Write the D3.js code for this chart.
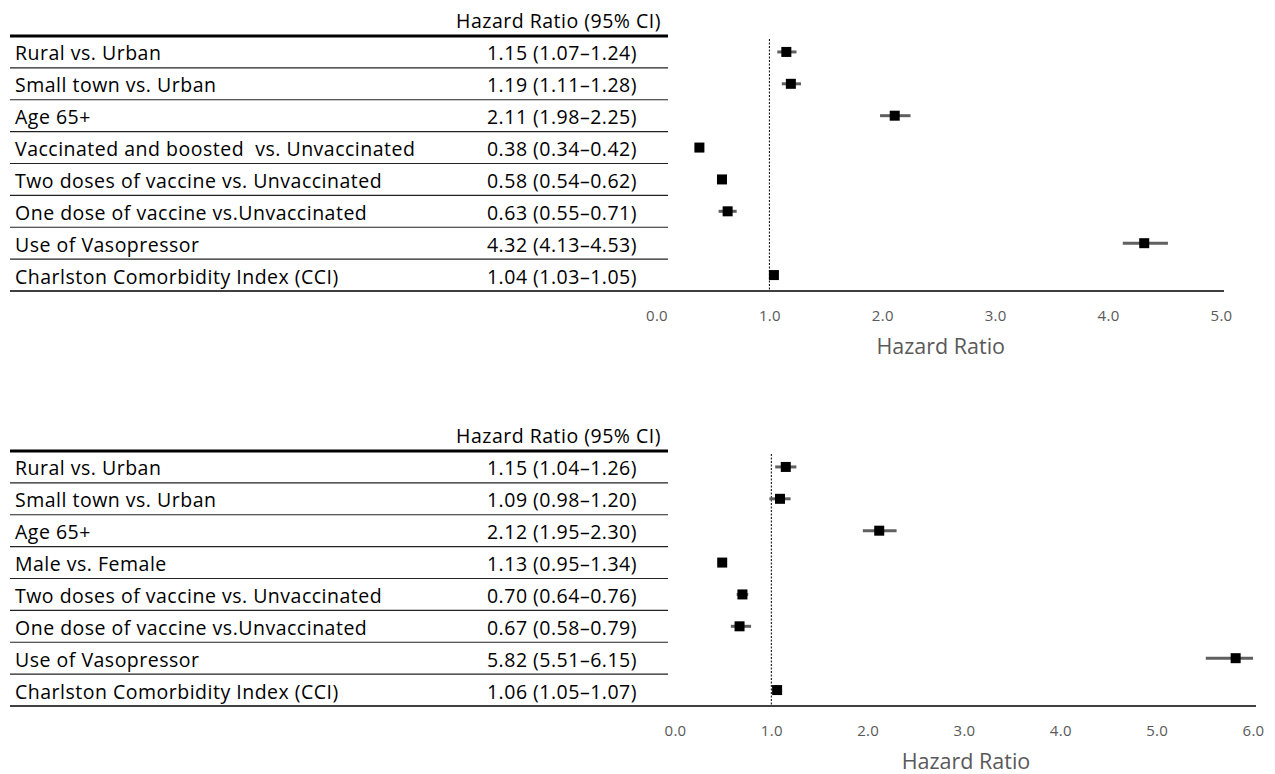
<!DOCTYPE html>
<html><head><meta charset="utf-8">
<script src="https://cdn.jsdelivr.net/npm/d3@7"></script>
<style>
html,body{margin:0;padding:0;background:#fff;}
text{font-family:"Open Sans",sans-serif;white-space:pre;}
</style></head>
<body><svg id="c" width="1275" height="774"></svg>
<script>
// ---- Panel 1 data ----
const labels1 = ["Rural vs. Urban","Small town vs. Urban","Age 65+","Vaccinated and boosted  vs. Unvaccinated","Two doses of vaccine vs. Unvaccinated","One dose of vaccine vs.Unvaccinated","Use of Vasopressor","Charlston Comorbidity Index (CCI)"];
const ciText1 = ["1.15 (1.07\u20131.24)","1.19 (1.11\u20131.28)","2.11 (1.98\u20132.25)","0.38 (0.34\u20130.42)","0.58 (0.54\u20130.62)","0.63 (0.55\u20130.71)","4.32 (4.13\u20134.53)","1.04 (1.03\u20131.05)"];
const hr1 = [1.15,1.19,2.11,0.38,0.58,0.63,4.32,1.04];
const lo1 = [1.07,1.11,1.98,0.34,0.54,0.55,4.13,1.03];
const hi1 = [1.24,1.28,2.25,0.42,0.62,0.71,4.53,1.05];
const ticks1 = [0,1,2,3,4,5];

// ---- Panel 2 data (plotted positions) ----
const labels2 = ["Rural vs. Urban","Small town vs. Urban","Age 65+","Male vs. Female","Two doses of vaccine vs. Unvaccinated","One dose of vaccine vs.Unvaccinated","Use of Vasopressor","Charlston Comorbidity Index (CCI)"];
const ciText2 = ["1.15 (1.04\u20131.26)","1.09 (0.98\u20131.20)","2.12 (1.95\u20132.30)","1.13 (0.95\u20131.34)","0.70 (0.64\u20130.76)","0.67 (0.58\u20130.79)","5.82 (5.51\u20136.15)","1.06 (1.05\u20131.07)"];
const hr2 = [1.15,1.09,2.12,0.49,0.70,0.67,5.82,1.06];
const lo2 = [1.04,0.98,1.95,0.45,0.64,0.58,5.51,1.05];
const hi2 = [1.26,1.20,2.30,0.54,0.76,0.79,6.15,1.07];
const ticks2 = [0,1,2,3,4,5,6];

const headerText = "Hazard Ratio (95% CI)";
const axisTitle = "Hazard Ratio";

const svg = d3.select("#c");

function panel(cfg){
  const g = svg.append("g");
  const n = cfg.labels.length;
  const y = d3.scaleBand().domain(d3.range(n)).range([cfg.top, cfg.bottom]).padding(0);
  const x = d3.scaleLinear().domain([0, d3.max(cfg.ticks)]).range([cfg.x0, cfg.x1]);

  // header
  g.append("text").attr("x", cfg.valRight + 24).attr("y", cfg.top - 8)
    .attr("text-anchor","end").attr("font-size",19.5).attr("letter-spacing",0.5)
    .attr("fill","#000").text(headerText);
  // thick top rule
  g.append("line").attr("x1",10).attr("x2",668).attr("y1",cfg.top).attr("y2",cfg.top)
    .attr("stroke","#000").attr("stroke-width",3);
  // row separators
  g.selectAll("line.sep").data(d3.range(1,n)).join("line").attr("class","sep")
    .attr("x1",10).attr("x2",668).attr("y1",d=>y(d)).attr("y2",d=>y(d))
    .attr("stroke","#222").attr("stroke-width",1.2);
  // labels
  g.selectAll("text.lab").data(cfg.labels).join("text").attr("class","lab")
    .attr("x",15).attr("y",(d,i)=>y(i)+y.bandwidth()/2+8.5)
    .attr("font-size",19.5).attr("letter-spacing",0.5).attr("fill","#000").text(d=>d);
  g.selectAll("text.val").data(cfg.ci).join("text").attr("class","val")
    .attr("x",cfg.valRight).attr("y",(d,i)=>y(i)+y.bandwidth()/2+8.5)
    .attr("text-anchor","end").attr("font-size",19.5).attr("letter-spacing",0.5)
    .attr("fill","#000").text(d=>d);

  // axis (bottom rule + ticks)
  const axis = d3.axisBottom(x).tickValues(cfg.ticks).tickSize(0).tickPadding(19)
    .tickFormat(d3.format(".1f"));
  const ag = g.append("g").attr("transform",`translate(0,${cfg.bottom})`).call(axis);
  ag.select(".domain").remove();
  ag.selectAll("text").attr("font-size",15).attr("letter-spacing",0.3).attr("fill","#595959")
    .style("font-family","'Open Sans',sans-serif");
  g.append("line").attr("x1",10).attr("x2",cfg.x1+3).attr("y1",cfg.bottom).attr("y2",cfg.bottom)
    .attr("stroke","#000").attr("stroke-width",1.5);
  g.append("text").attr("x",(cfg.x0+cfg.x1)/2+2).attr("y",cfg.bottom+63)
    .attr("text-anchor","middle").attr("font-size",21.5).attr("fill","#595959").text(axisTitle);

  // reference line at HR = 1
  g.append("line").attr("x1",x(1)).attr("x2",x(1)).attr("y1",cfg.top+3).attr("y2",cfg.bottom)
    .attr("stroke","#000").attr("stroke-width",1).attr("stroke-dasharray","2,1.5");

  // CIs
  const dom = x.domain();
  g.selectAll("line.ci").data(cfg.hr).join("line").attr("class","ci")
    .attr("x1",(d,i)=>x(Math.max(dom[0],cfg.lo[i]))).attr("x2",(d,i)=>x(Math.min(dom[1],cfg.hi[i])))
    .attr("y1",(d,i)=>y(i)+y.bandwidth()/2).attr("y2",(d,i)=>y(i)+y.bandwidth()/2)
    .attr("stroke","#606060").attr("stroke-width",3);
  const s = 10;
  g.selectAll("rect.pt").data(cfg.hr).join("rect").attr("class","pt")
    .attr("x",d=>x(d)-s/2).attr("y",(d,i)=>y(i)+y.bandwidth()/2-s/2)
    .attr("width",s).attr("height",s).attr("fill","#000");
}

panel({labels:labels1, ci:ciText1, hr:hr1, lo:lo1, hi:hi1, ticks:ticks1,
  top:36, bottom:291, x0:656.5, x1:1221, valRight:637});
panel({labels:labels2, ci:ciText2, hr:hr2, lo:lo2, hi:hi2, ticks:ticks2,
  top:451, bottom:706, x0:675, x1:1253, valRight:637});
</script></body></html>
